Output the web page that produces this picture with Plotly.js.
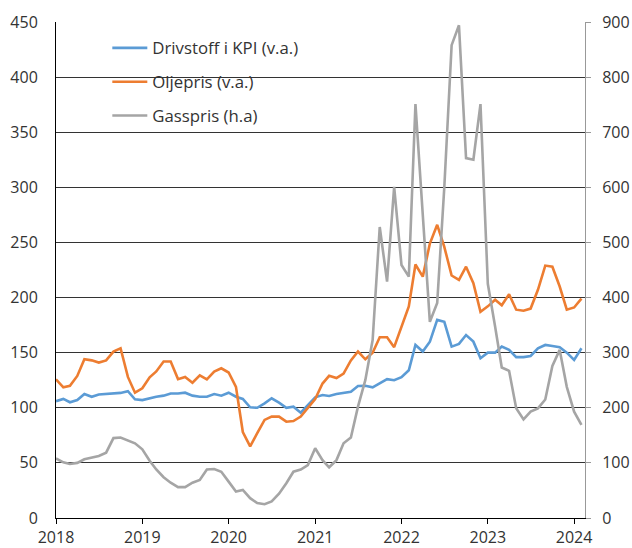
<!DOCTYPE html>
<html>
<head>
<meta charset="utf-8">
<script src="https://cdn.plot.ly/plotly-3.0.1.min.js"></script>
<style>
  html, body { margin: 0; padding: 0; background: #fff; }
  #chart { width: 632px; height: 548px; }
</style>
</head>
<body>
<div id="chart"></div>
<script>
// Monthly observations, Jan 2018 - Feb 2024
var startYear = 2018;
var drivstoff = [
  106, 108, 105, 107, 112.5, 110, 112, 112.5, 112.5, 113.5, 115, 107.7,
  107, 108.8, 110, 111, 113, 113, 113.7, 111, 110, 110, 112.5, 111,
  113.7, 110, 108, 100.4, 100, 104, 108.6, 104.6, 100, 101, 95.5, 102.5,
  109.5, 111.6, 110.7, 112.5, 113.7, 114.6, 119.8, 120, 118.6, 122, 126, 125,
  127.7, 134, 157, 151, 160, 179.7, 178, 155.5, 158, 166, 160, 145,
  150, 150, 155.5, 152.5, 146, 146, 147, 154, 157, 156, 155, 150,
  143.4, 154
];
var oljepris = [
  125.8, 118.6, 120, 128.9, 144, 143, 141, 143, 151, 154, 128, 113.7,
  117.7, 127.7, 133, 142, 142, 126, 128, 122.8, 129.5, 125.8, 132.8, 135.8,
  132, 119, 78, 65, 77, 89, 92, 92, 87.4, 88, 92, 100.4,
  108, 122, 129, 127, 131, 143, 151, 144, 150, 164, 164, 155,
  174, 192, 230, 219, 249, 266, 246, 220, 216, 228, 213, 187,
  192, 198, 193, 203, 189, 188, 190, 207, 229, 228, 210, 189,
  191, 199
];
var gasspris = [
  108, 101, 98, 100, 106.5, 110, 112.6, 118.5, 145, 146, 140, 135.6,
  124.7, 104, 88, 74, 64, 56, 56, 64, 69, 88, 89, 84,
  66, 48, 51, 36, 27, 25, 30, 44, 63, 84, 88, 96,
  126.5, 105, 92, 105, 135.5, 146, 202, 250, 323, 528, 429, 601,
  459, 438, 751, 560, 356, 390, 600, 858, 894, 653, 650, 751,
  425, 347, 273, 267, 199, 179, 193, 199, 215, 276, 305, 238,
  193, 169
];
var seriesNames = ['Drivstoff i KPI (v.a.)', 'Oljepris (v.a.)', 'Gasspris (h.a)'];
var yearTicks = ['2018', '2019', '2020', '2021', '2022', '2023', '2024'];

var months = [];
for (var i = 0; i < drivstoff.length; i++) {
  var y = startYear + Math.floor(i / 12);
  var m = (i % 12) + 1;
  months.push(y + '-' + (m < 10 ? '0' + m : m) + '-01');
}

var font = 'Open Sans, Noto Sans, sans-serif';
var traces = [
  {x: months, y: drivstoff, name: seriesNames[0], type: 'scatter', mode: 'lines',
   line: {color: '#5B9BD5', width: 2.6}, legendgroup: 'a', yaxis: 'y'},
  {x: months, y: oljepris, name: seriesNames[1], type: 'scatter', mode: 'lines',
   line: {color: '#ED7D31', width: 2.6}, legendgroup: 'b', yaxis: 'y'},
  {x: months, y: gasspris, name: seriesNames[2], type: 'scatter', mode: 'lines',
   line: {color: '#A5A5A5', width: 2.6}, legendgroup: 'c', yaxis: 'y2'}
];

var layout = {
  width: 632, height: 548,
  margin: {l: 56, r: 47, t: 22, b: 30},
  paper_bgcolor: '#fff', plot_bgcolor: '#fff',
  font: {family: font, size: 16, color: '#333'},
  showlegend: true,
  legend: {
    x: 0.097, y: 0.983, xanchor: 'left', yanchor: 'top',
    bgcolor: 'rgba(0,0,0,0)', borderwidth: 0,
    font: {family: font, size: 16.8, color: '#333'},
    itemwidth: 35,
    traceorder: 'grouped', tracegroupgap: 9
  },
  xaxis: {
    type: 'date',
    range: ['2018-01-01', '2024-02-16'],
    tickvals: yearTicks.map(function (t) { return t + '-01-01'; }),
    ticktext: yearTicks,
    showgrid: false, zeroline: false,
    showline: true, linecolor: '#000', linewidth: 1,
    ticks: 'outside', ticklen: 5, tickcolor: '#000',
    tickfont: {family: font, size: 16, color: '#333'}
  },
  yaxis: {
    range: [0, 450], dtick: 50, tick0: 0,
    showgrid: true, gridcolor: '#333', gridwidth: 1,
    zeroline: false,
    showline: true, linecolor: '#000', linewidth: 1,
    ticks: '', ticklabelstandoff: 14,
    tickfont: {family: font, size: 16, color: '#333'}
  },
  yaxis2: {
    overlaying: 'y', side: 'right',
    range: [0, 900], dtick: 100, tick0: 0,
    showgrid: false, zeroline: false,
    showline: true, linecolor: '#999', linewidth: 1,
    ticks: 'outside', ticklen: 5, tickcolor: '#999', ticklabelstandoff: 8,
    tickfont: {family: font, size: 16, color: '#333'}
  },
  shapes: [{
    type: 'rect', xref: 'paper', yref: 'paper', layer: 'between',
    x0: 0.03, x1: 0.537, y0: 0.786, y1: 0.992,
    fillcolor: '#fff', line: {width: 0}
  }]
};

Plotly.newPlot('chart', traces, layout, {staticPlot: true, displayModeBar: false});
</script>
</body>
</html>
